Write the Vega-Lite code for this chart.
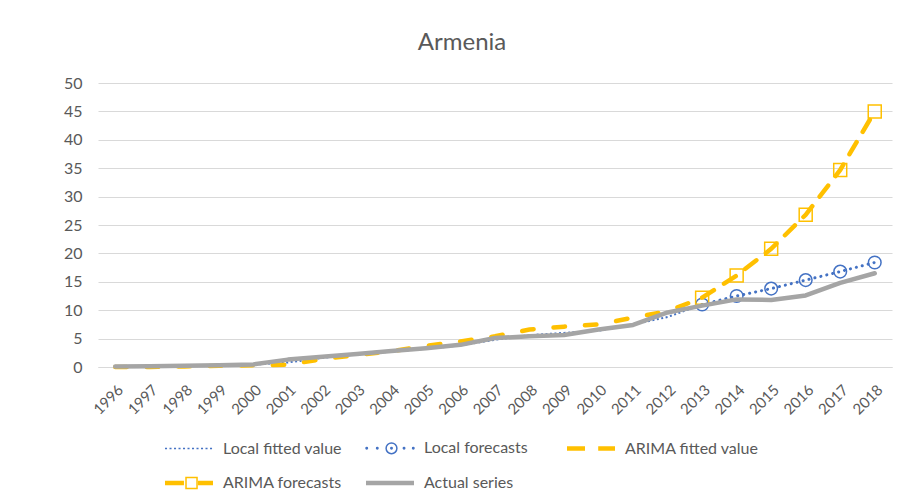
{
  "$schema": "https://vega.github.io/schema/vega-lite/v6.json",
  "autosize": "none",
  "width": 794,
  "height": 284,
  "padding": {"left": 98, "top": 83, "right": 9, "bottom": 136},
  "background": "white",
  "title": {"text": "Armenia", "font": "Lato", "fontSize": 24, "fontWeight": "normal", "color": "#595959", "anchor": "middle", "dx": -33, "offset": 20},
  "config": {
    "view": {"stroke": null},
    "font": "Lato",
    "axis": {"labelFont": "Lato", "labelColor": "#595959", "titleColor": "#595959"},
    "legend": {"labelFont": "Lato"}
  },
  "datasets": {
    "series": [
      {"year": "1996", "series": "Local fitted value", "value": 0.1},
      {"year": "1997", "series": "Local fitted value", "value": 0.15},
      {"year": "1998", "series": "Local fitted value", "value": 0.2},
      {"year": "1999", "series": "Local fitted value", "value": 0.3},
      {"year": "2000", "series": "Local fitted value", "value": 0.4},
      {"year": "2001", "series": "Local fitted value", "value": 0.8},
      {"year": "2002", "series": "Local fitted value", "value": 1.6},
      {"year": "2003", "series": "Local fitted value", "value": 2.2},
      {"year": "2004", "series": "Local fitted value", "value": 2.7},
      {"year": "2005", "series": "Local fitted value", "value": 3.2},
      {"year": "2006", "series": "Local fitted value", "value": 3.8},
      {"year": "2007", "series": "Local fitted value", "value": 4.8},
      {"year": "2008", "series": "Local fitted value", "value": 5.6},
      {"year": "2009", "series": "Local fitted value", "value": 6.0},
      {"year": "2010", "series": "Local fitted value", "value": 6.4},
      {"year": "2011", "series": "Local fitted value", "value": 7.5},
      {"year": "2012", "series": "Local fitted value", "value": 8.8},
      {"year": "2013", "series": "Local fitted value", "value": 11.0},
      {"year": "2013", "series": "Local forecasts", "value": 11.0},
      {"year": "2014", "series": "Local forecasts", "value": 12.5},
      {"year": "2015", "series": "Local forecasts", "value": 13.8},
      {"year": "2016", "series": "Local forecasts", "value": 15.3},
      {"year": "2017", "series": "Local forecasts", "value": 16.8},
      {"year": "2018", "series": "Local forecasts", "value": 18.4},
      {"year": "1996", "series": "ARIMA fitted value", "value": 0.0},
      {"year": "1997", "series": "ARIMA fitted value", "value": 0.0},
      {"year": "1998", "series": "ARIMA fitted value", "value": 0.1},
      {"year": "1999", "series": "ARIMA fitted value", "value": 0.2},
      {"year": "2000", "series": "ARIMA fitted value", "value": 0.3},
      {"year": "2001", "series": "ARIMA fitted value", "value": 0.4},
      {"year": "2002", "series": "ARIMA fitted value", "value": 1.4},
      {"year": "2003", "series": "ARIMA fitted value", "value": 2.1},
      {"year": "2004", "series": "ARIMA fitted value", "value": 2.8},
      {"year": "2005", "series": "ARIMA fitted value", "value": 3.7},
      {"year": "2006", "series": "ARIMA fitted value", "value": 4.5},
      {"year": "2007", "series": "ARIMA fitted value", "value": 5.4},
      {"year": "2008", "series": "ARIMA fitted value", "value": 6.6},
      {"year": "2009", "series": "ARIMA fitted value", "value": 7.1},
      {"year": "2010", "series": "ARIMA fitted value", "value": 7.5},
      {"year": "2011", "series": "ARIMA fitted value", "value": 8.7},
      {"year": "2012", "series": "ARIMA fitted value", "value": 9.8},
      {"year": "2013", "series": "ARIMA fitted value", "value": 12.2},
      {"year": "2013", "series": "ARIMA forecasts", "value": 12.2},
      {"year": "2014", "series": "ARIMA forecasts", "value": 16.1},
      {"year": "2015", "series": "ARIMA forecasts", "value": 20.8},
      {"year": "2016", "series": "ARIMA forecasts", "value": 26.8},
      {"year": "2017", "series": "ARIMA forecasts", "value": 34.7},
      {"year": "2018", "series": "ARIMA forecasts", "value": 45.0},
      {"year": "1996", "series": "Actual series", "value": 0.1},
      {"year": "1997", "series": "Actual series", "value": 0.15},
      {"year": "1998", "series": "Actual series", "value": 0.2},
      {"year": "1999", "series": "Actual series", "value": 0.3},
      {"year": "2000", "series": "Actual series", "value": 0.45},
      {"year": "2001", "series": "Actual series", "value": 1.3},
      {"year": "2002", "series": "Actual series", "value": 1.8},
      {"year": "2003", "series": "Actual series", "value": 2.3},
      {"year": "2004", "series": "Actual series", "value": 2.8},
      {"year": "2005", "series": "Actual series", "value": 3.3},
      {"year": "2006", "series": "Actual series", "value": 3.9},
      {"year": "2007", "series": "Actual series", "value": 5.1},
      {"year": "2008", "series": "Actual series", "value": 5.4},
      {"year": "2009", "series": "Actual series", "value": 5.65},
      {"year": "2010", "series": "Actual series", "value": 6.6},
      {"year": "2011", "series": "Actual series", "value": 7.4},
      {"year": "2012", "series": "Actual series", "value": 9.6},
      {"year": "2013", "series": "Actual series", "value": 10.8},
      {"year": "2014", "series": "Actual series", "value": 11.9},
      {"year": "2015", "series": "Actual series", "value": 11.8},
      {"year": "2016", "series": "Actual series", "value": 12.6},
      {"year": "2017", "series": "Actual series", "value": 14.8},
      {"year": "2018", "series": "Actual series", "value": 16.5}
    ]
  },
  "data": {"name": "series"},
  "encoding": {
    "x": {
      "field": "year", "type": "ordinal",
      "scale": {"type": "point", "padding": 0.5},
      "axis": {"title": null, "labelAngle": -45, "ticks": false, "domain": true, "domainColor": "#D9D9D9", "grid": false, "labelFontSize": 15, "labelPadding": 15}
    },
    "y": {
      "field": "value", "type": "quantitative",
      "scale": {"domain": [0, 50], "nice": false},
      "axis": {"title": null, "values": [0, 5, 10, 15, 20, 25, 30, 35, 40, 45, 50], "grid": true, "gridColor": "#D9D9D9", "domain": false, "ticks": false, "labelFontSize": 16, "labelPadding": 16}
    }
  },
  "layer": [
    {
      "transform": [{"filter": "datum.series === 'Local fitted value'"}],
      "mark": {"type": "line", "color": "#4472C4", "strokeWidth": 2, "strokeDash": [2, 2.5]}
    },
    {
      "transform": [{"filter": "datum.series === 'Local forecasts'"}],
      "mark": {"type": "line", "color": "#4472C4", "strokeWidth": 3, "strokeDash": [0.1, 6], "strokeCap": "round"}
    },
    {
      "transform": [{"filter": "datum.series === 'Local forecasts'"}],
      "mark": {"type": "point", "shape": "circle", "filled": false, "size": 160, "strokeWidth": 1.5, "opacity": 1, "color": "#4472C4"}
    },
    {
      "transform": [{"filter": "datum.series === 'ARIMA fitted value'"}],
      "mark": {"type": "line", "color": "#FFC000", "strokeWidth": 4.5, "strokeDash": [11.5, 20], "strokeCap": "round"}
    },
    {
      "transform": [{"filter": "datum.series === 'ARIMA forecasts'"}],
      "mark": {"type": "line", "color": "#FFC000", "strokeWidth": 4.5, "strokeDash": [14, 12], "strokeCap": "round"}
    },
    {
      "transform": [{"filter": "datum.series === 'ARIMA forecasts'"}],
      "mark": {"type": "point", "shape": "square", "filled": false, "size": 169, "strokeWidth": 1.5, "opacity": 1, "color": "#FFC000"}
    },
    {
      "transform": [{"filter": "datum.series === 'Actual series'"}],
      "mark": {"type": "line", "color": "#A5A5A5", "strokeWidth": 4.5, "strokeCap": "round", "strokeJoin": "round"}
    },
    {
      "transform": [{"filter": "false"}],
      "mark": {"type": "point", "filled": false, "opacity": 1, "strokeWidth": 1.5},
      "encoding": {
        "color": {
          "field": "series", "type": "nominal",
          "scale": {
            "domain": ["Local fitted value", "Local forecasts", "ARIMA fitted value", "ARIMA forecasts", "Actual series"],
            "range": ["#4472C4", "#4472C4", "#FFC000", "#FFC000", "#A5A5A5"]
          },
          "legend": {
            "title": null, "orient": "none", "legendX": 66, "legendY": 352,
            "direction": "horizontal", "columns": 3, "gridAlign": "all",
            "columnPadding": 6, "rowPadding": 13,
            "labelFontSize": 16, "labelColor": "#595959", "labelOffset": 33,
            "symbolSize": 576, "symbolStrokeWidth": 1.5, "symbolOpacity": 1
          }
        },
        "shape": {
          "field": "series", "type": "nominal",
          "scale": {
            "domain": ["Local fitted value", "Local forecasts", "ARIMA fitted value", "ARIMA forecasts", "Actual series"],
            "range": [
              "M-1,0h0.17M-0.625,0h0.17M-0.25,0h0.17M0.125,0h0.17M0.5,0h0.17M0.875,0h0.17M1.25,0h0.17M1.625,0h0.17M2,0h0.17M2.375,0h0.17M2.75,0h0.17",
              "M-0.88,0a0.06,0.06 0 1,0 -0.12,0a0.06,0.06 0 1,0 0.12,0M0,0a0.06,0.06 0 1,0 -0.12,0a0.06,0.06 0 1,0 0.12,0M1.575,0a0.45,0.45 0 1,0 -0.9,0a0.45,0.45 0 1,0 0.9,0M1.185,0a0.06,0.06 0 1,0 -0.12,0a0.06,0.06 0 1,0 0.12,0M2.23,0a0.06,0.06 0 1,0 -0.12,0a0.06,0.06 0 1,0 0.12,0M3,0a0.06,0.06 0 1,0 -0.12,0a0.06,0.06 0 1,0 0.12,0",
              "M-1,-0.12H0.5M-1,0H0.5M-1,0.12H0.5M1.6,-0.12H3M1.6,0H3M1.6,0.12H3",
              "M-1,-0.12H0.58M-1,0H0.58M-1,0.12H0.58M0.75,-0.46H1.67V0.46H0.75ZM1.75,-0.12H3M1.75,0H3M1.75,0.12H3",
              "M-1,-0.12H3M-1,0H3M-1,0.12H3"
            ]
          },
          "legend": {"title": null}
        }
      }
    }
  ]
}
